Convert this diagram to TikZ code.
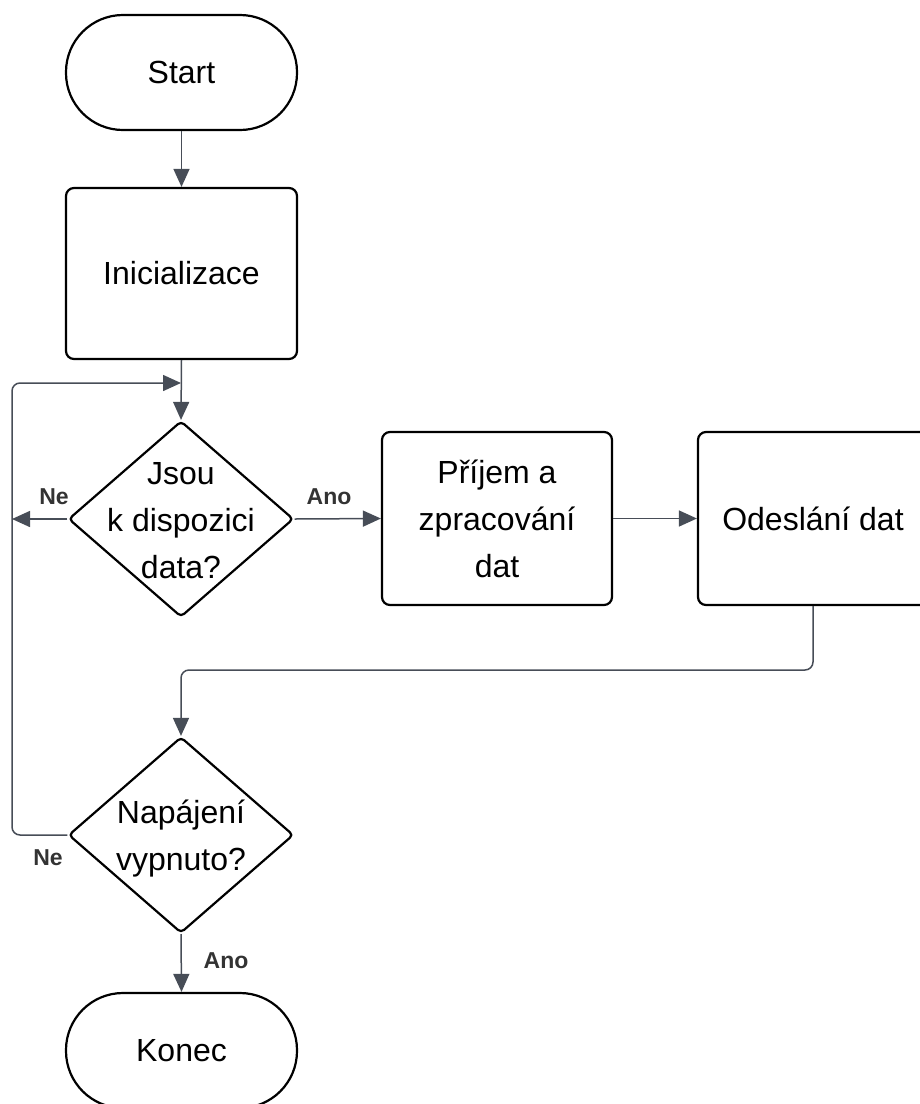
\documentclass[tikz,border=0pt]{standalone}
\usepackage{fontspec}
\setmainfont{Liberation Sans}
\usetikzlibrary{shapes.geometric,arrows.meta}

\definecolor{linec}{HTML}{474D57}
\definecolor{labc}{HTML}{333333}

\tikzset{
  every node/.style={font=\fontsize{32}{47}\selectfont},
  terminal/.style={draw=black, line width=2.2pt, rectangle, minimum width=231pt,
    minimum height=115pt, rounded corners=57pt, inner sep=0pt},
  procbox/.style={draw=black, line width=2.2pt, rectangle, rounded corners=8pt,
    inner sep=0pt, align=center},
  decision/.style={draw=black, line width=2.2pt, diamond, rounded corners=4pt,
    minimum width=225pt, minimum height=196pt, inner sep=0pt},
  dtext/.style={align=center, inner sep=0pt},
  conn/.style={draw=linec, line width=1.5pt, rounded corners=8pt,
    -{Triangle[length=18pt,width=16pt]}},
  lbl/.style={font=\fontsize{23}{26}\bfseries\selectfont, text=labc, inner sep=0pt}
}

\begin{document}
\begin{tikzpicture}[x=1pt,y=-1pt]
\useasboundingbox (0,0) rectangle (920,1104);

% process nodes
\node[terminal] (start) at (181.5,72.5) {Start};
\node[procbox, minimum width=231pt, minimum height=171pt] (init) at (181.5,273.5) {Inicializace};
\node[decision] (d1) at (181,519) {};
\node[dtext] (d1t) at (181,521) {Jsou\\k dispozici\\data?};
\node[procbox, minimum width=230pt, minimum height=173pt] (recv) at (497,518.5) {Příjem a\\zpracování\\dat};
\node[procbox, minimum width=230pt, minimum height=173pt] (send) at (813,518.5) {Odeslání dat};
\node[decision] (d2) at (181,835) {};
\node[dtext] (d2t) at (181,839) {Napájení\\vypnuto?};
\node[terminal] (stop) at (181.5,1050.5) {Konec};

% helper coordinates for routed connectors
\coordinate (join) at (181,383);
\coordinate (leftrail) at (12,383);
\coordinate (neout) at (12,519);
\coordinate (backmid) at (181,670);

% connectors
\draw[conn] (start.south) -- (init.north);
\draw[conn] (init.south) -- (d1.north);
\draw[conn] (d1.east) -- (recv.west);
\draw[conn] (d1.west) -- (neout);
\draw[conn] (recv.east) -- (send.west);
\draw[conn] (send.south) |- (backmid) -- (d2.north);
\draw[conn] (d2.west) -| (leftrail) -- (join);
\draw[conn] (d2.south) -- (stop.north);

% branch labels
\node[lbl] (l1) at (54,497) {Ne};
\node[lbl] (l2) at (329,497) {Ano};
\node[lbl] (l3) at (48,858) {Ne};
\node[lbl] (l4) at (226,961) {Ano};
\end{tikzpicture}
\end{document}
